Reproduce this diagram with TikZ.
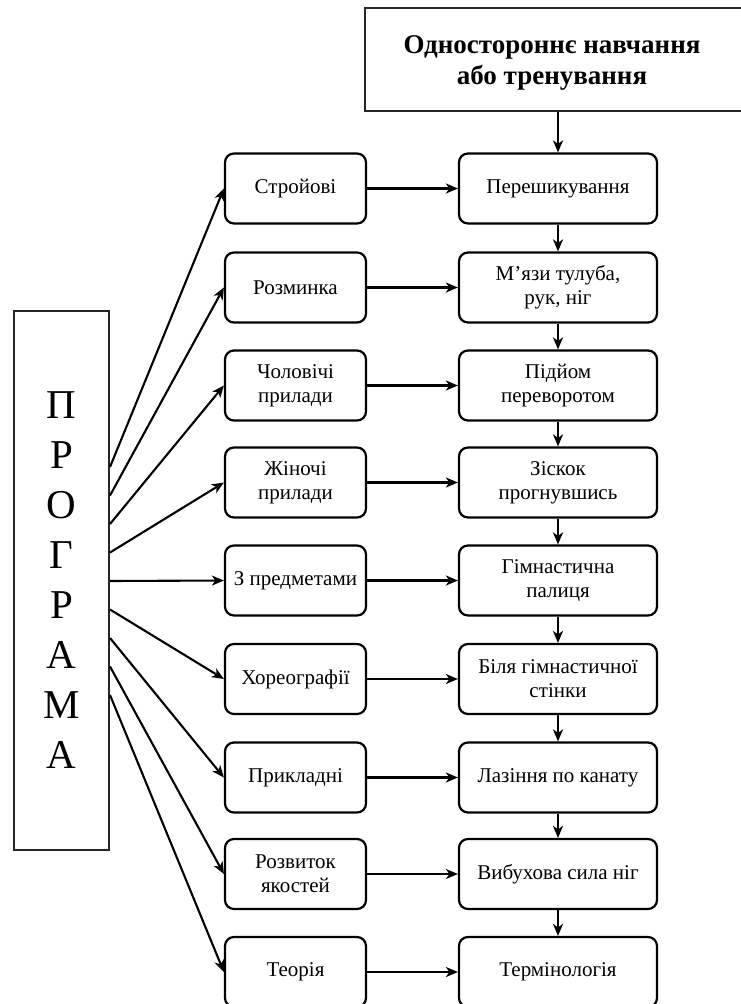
\documentclass[tikz,border=0pt]{standalone}
\usepackage{fontspec}
\setmainfont{Liberation Serif}
\usetikzlibrary{arrows.meta}
\begin{document}
\begin{tikzpicture}[x=1pt,y=-1pt,
  lbox/.style={draw, line width=2.2pt, rounded corners=9pt, minimum width=141pt, minimum height=70pt, align=center, inner sep=0pt, font=\fontsize{21}{24}\selectfont},
  rbox/.style={lbox, minimum width=198pt},
  arr/.style={-{Stealth[length=12pt,width=10pt,inset=3.5pt]}, line width=2.1pt},
  frame/.style={draw, line width=2.2pt, draw=black!85, inner sep=0pt}]
\useasboundingbox (0,0) rectangle (740,1004);

\node[frame, minimum width=382pt, minimum height=103pt] (top) at (556,59.5) {};
\node[align=center, inner sep=0pt, font=\bfseries\fontsize{27}{30.7}\selectfont]
  (toptext) at (552,63) {Одностороннє навчання\\або тренування};

\node[frame, minimum width=95pt, minimum height=539pt, align=center,
  font=\fontsize{41}{50}\selectfont] (prog) at (61.5,580.5)
  {П\\Р\\О\\Г\\Р\\А\\М\\А};

\foreach \i/\y/\lt/\rt in {
  1/188.5/{Стройові}/{Перешикування},
  2/287.5/{Розминка}/{М’язи тулуба,\\рук, ніг},
  3/385.5/{Чоловічі\\прилади}/{Підйом\\переворотом},
  4/482.5/{Жіночі\\прилади}/{Зіскок\\прогнувшись},
  5/580.5/{З предметами}/{Гімнастична\\палиця},
  6/679/{Хореографії}/{Біля гімнастичної\\стінки},
  7/777.5/{Прикладні}/{Лазіння по канату},
  8/874/{Розвиток\\якостей}/{Вибухова сила ніг},
  9/972/{Теорія}/{Термінологія}}{
  \node[lbox] (l\i) at (295.5,\y) {\lt};
  \node[rbox] (r\i) at (558,\y) {\rt};
  \coordinate (p\i) at (110,{467+28.5*(\i-1)});
  \draw[arr] (p\i) -- (l\i.west);
  \draw[arr] (l\i.east) -- (r\i.west);
}

\draw[arr] (r1.north |- top.south) -- (r1.north);
\foreach \a/\b in {1/2,2/3,3/4,4/5,5/6,6/7,7/8,8/9}{
  \draw[arr] (r\a.south) -- (r\b.north);
}
\end{tikzpicture}
\end{document}
